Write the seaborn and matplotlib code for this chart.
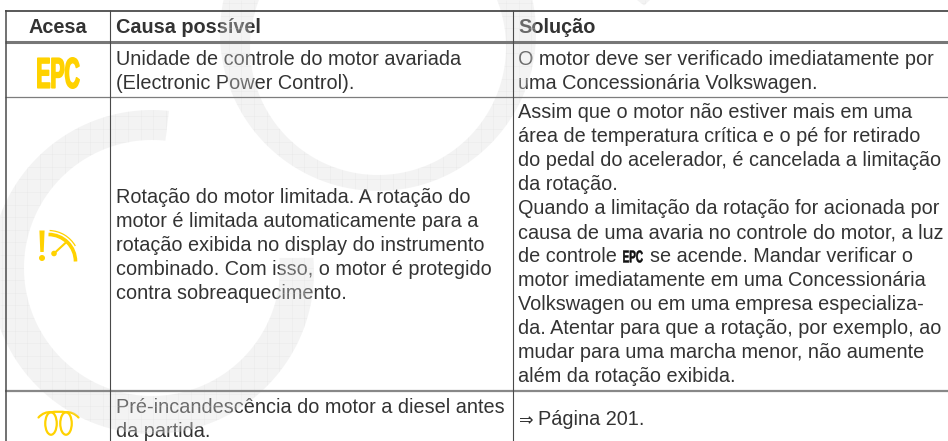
import numpy as np
import matplotlib
matplotlib.use("Agg")
import matplotlib.pyplot as plt
import seaborn as sns
from matplotlib.collections import LineCollection
from matplotlib.font_manager import FontProperties
from matplotlib.patches import Arc, Circle, Ellipse, PathPatch, Polygon
from matplotlib.path import Path
from matplotlib.text import Text
from matplotlib.textpath import TextPath
from matplotlib.transforms import Affine2D, Bbox

# ---- table content -------------------------------------------------------
headers = ["Acesa", "Causa possível", "Solução"]
cause_epc = ["Unidade de controle do motor avariada",
             "(Electronic Power Control)."]
cause_rpm = ["Rotação do motor limitada. A rotação do",
             "motor é limitada automaticamente para a",
             "rotação exibida no display do instrumento",
             "combinado. Com isso, o motor é protegido",
             "contra sobreaquecimento."]
cause_glow = ["Pré-incandescência do motor a diesel antes",
              "da partida."]
fix_epc = ["O motor deve ser verificado imediatamente por",
           "uma Concessionária Volkswagen."]
fix_rpm = ["Assim que o motor não estiver mais em uma",
           "área de temperatura crítica e o pé for retirado",
           "do pedal do acelerador, é cancelada a limitação",
           "da rotação.",
           "Quando a limitação da rotação for acionada por",
           "causa de uma avaria no controle do motor, a luz",
           None,
           "motor imediatamente em uma Concessionária",
           "Volkswagen ou em uma empresa especializa-",
           "da. Atentar para que a rotação, por exemplo, ao",
           "mudar para uma marcha menor, não aumente",
           "além da rotação exibida."]
fix_rpm_inline = ["de controle", "EPC", "se acende. Mandar verificar o"]
fix_glow = "Página 201."

# ---- style ---------------------------------------------------------------
sns.set_theme(style="white")
plt.rcParams["font.family"] = ["Liberation Sans", "DejaVu Sans"]
INK = "#333333"
YELLOW = "#FFD200"
FS = 14.3
W, H = 948, 441

fig, ax = plt.subplots(figsize=(W / 100, H / 100), dpi=100)
fig.subplots_adjust(0, 0, 1, 1)
ax.set_xlim(0, W)
ax.set_ylim(H, 0)
ax.set_axis_off()
sns.despine(ax=ax, left=True, bottom=True)


class CondensedText(Text):
    """Real text object squeezed to a given box (the EPC lamp glyph)."""

    def __init__(self, x, y, s, w, h, stroke=0.0, **kw):
        super().__init__(x, y, s, fontsize=w / 2.056 * 0.72, fontweight="bold", **kw)
        self._box = (w, h)
        self._stroke = stroke

    def _display_box(self):
        x0, y0 = self.axes.transData.transform(self.get_position())
        return x0, y0, self._box[0], self._box[1]

    def draw(self, renderer):
        fp = FontProperties(family="Liberation Sans", weight="bold")
        tp = TextPath((0, 0), self.get_text(), size=100, prop=fp)
        bb = tp.get_extents()
        x0, y0, w, h = self._display_box()
        s = self._stroke
        tr = (Affine2D().translate(-bb.x0, -bb.y0)
              .scale((w - s) / bb.width, (h - s) / bb.height)
              .translate(x0 + s / 2, y0 + s / 2))
        rgb = matplotlib.colors.to_rgb(self.get_color())
        gc = renderer.new_gc()
        gc.set_foreground(rgb)
        gc.set_linewidth(s * 0.72)
        gc.set_alpha(1)
        renderer.draw_path(gc, tp, tr, rgb)
        gc.restore()

    def get_window_extent(self, renderer=None, dpi=None):
        x0, y0, w, h = self._display_box()
        return Bbox.from_bounds(x0, y0, w, h)


# ---- rules ---------------------------------------------------------------
X0, X1, X2 = 6.5, 110, 512.7
ax.hlines(10.5, X0 - 1, W, color="#2b2b2b", lw=1.1, zorder=8)
ax.hlines(41.8, X0 - 1, W, color="#777777", lw=2.2, zorder=8)
ax.hlines(96.6, X0 - 1, W, color="#7d7d7d", lw=0.9, zorder=8)
ax.hlines(390.8, X0 - 1, W, color="#888888", lw=1.6, zorder=8)
ax.vlines([X0, X1, X2], 10, H, color="#4a4a4a", lw=[1.1, 0.8, 0.8], zorder=8)

# ---- text ----------------------------------------------------------------
TX1, TX2 = 116, 518
kw = dict(fontsize=FS, color=INK, va="baseline", ha="left", zorder=4)


def block(x, y0, lines, step=23.9):
    for i, s in enumerate(lines):
        if s is not None:
            ax.text(x, y0 + i * step, s, **kw)


ax.text(58, 33, headers[0], fontsize=FS, fontweight="bold", color=INK,
        ha="center", va="baseline", zorder=4)
ax.text(TX1, 33, headers[1], fontsize=FS, fontweight="bold", color=INK,
        ha="left", va="baseline", zorder=4)
ax.text(TX2, 33, headers[2], fontsize=FS, fontweight="bold", color=INK,
        ha="left", va="baseline", zorder=4)

block(TX1, 65, cause_epc)
block(TX1, 203.4, cause_rpm)
block(TX1, 413, cause_glow)
block(TX2, 65, fix_epc)
block(TX2, 118.4, fix_rpm, step=24)
ax.text(TX2, 262.4, fix_rpm_inline[0], **kw)
ax.add_artist(CondensedText(623, 262.8, fix_rpm_inline[1], 20, 12.6, stroke=0.5,
                            color="#111111", zorder=4))
ax.text(650, 262.4, fix_rpm_inline[2], **kw)
ax.text(519, 425, "⇒", fontsize=12.5, color=INK, va="baseline", ha="left",
        family=["DejaVu Sans"], zorder=4)
ax.text(538, 425, fix_glow, **kw)

# ---- lamp icons ----------------------------------------------------------
ax.add_artist(CondensedText(37, 89, "EPC", 43, 32, stroke=1.6, color=YELLOW, zorder=4))

# rev-limit lamp
ax.add_patch(Polygon([(39.4, 230.5), (44.6, 230.5), (43.7, 252), (40.3, 252)],
                     closed=True, fc=YELLOW, ec="none", zorder=4))
ax.add_patch(Circle((42, 258), 3, fc=YELLOW, ec="none", zorder=4))
ax.add_patch(Circle((54, 253.5), 2.8, fc=YELLOW, ec="none", zorder=4))
ax.plot([54, 67], [253.5, 241.5], color=YELLOW, lw=1.5, zorder=4, solid_capstyle="round")
ax.add_patch(Arc((48.5, 261.5), 54, 54, theta1=-90, theta2=0, color=YELLOW, lw=2.6, zorder=4))
ax.add_patch(Arc((48.5, 261.5), 62, 62, theta1=-88, theta2=-30, color=YELLOW, lw=0.9, zorder=4))

# glow-plug coil
ax.add_patch(Ellipse((51, 423.5), 11.5, 22.5, fc="none", ec=YELLOW, lw=1.6, zorder=4))
ax.add_patch(Ellipse((66, 423.5), 11.5, 22.5, fc="none", ec=YELLOW, lw=1.6, zorder=4))
coil = Path([(38.5, 417.5), (42, 413.5), (47, 411.6), (51, 412.3),
             (55, 411.5), (62, 411.5), (66, 412.3),
             (70, 411.6), (75, 413.5), (78.5, 417.5)],
            [Path.MOVETO, Path.CURVE4, Path.CURVE4, Path.CURVE4,
             Path.CURVE4, Path.CURVE4, Path.CURVE4,
             Path.CURVE4, Path.CURVE4, Path.CURVE4])
ax.add_patch(PathPatch(coil, fc="none", ec=YELLOW, lw=1.6, capstyle="round", zorder=4))


# ---- translucent watermark laid over everything --------------------------
def arc_pts(c, r, a0, a1, n=240):
    t = np.radians(np.linspace(a0, a1, n))
    return np.column_stack([c[0] + r * np.cos(t), c[1] + r * np.sin(t)])


ring_a = Path.make_compound_path(
    Path(arc_pts((378, 33), 158, 0, 360), closed=False),
    Path(arc_pts((378, 47), 128, 360, 0), closed=False),
)
ring_b = Path(np.vstack([arc_pts((152, 272), 162, -84, -365),
                         arc_pts((152, 268), 128, -364.5, -84)]), closed=False)
tip = Path([(637, 0), (650, 0), (644, 5.5), (637, 0)])

grid_x = np.arange(2, W, 12.6)
grid_y = np.arange(3, H, 12.6)
for shape in (ring_a, ring_b, tip):
    patch = PathPatch(shape, fc=(0.864, 0.864, 0.864), ec="none", alpha=0.33, zorder=6)
    ax.add_patch(patch)
    segs = [[(x, 0), (x, H)] for x in grid_x] + [[(0, y), (W, y)] for y in grid_y]
    lc = LineCollection(segs, colors="#dcdcdc", linewidths=0.5, alpha=0.25, zorder=7)
    ax.add_collection(lc)
    lc.set_clip_path(patch)

fig.savefig("out.png", dpi=100)
